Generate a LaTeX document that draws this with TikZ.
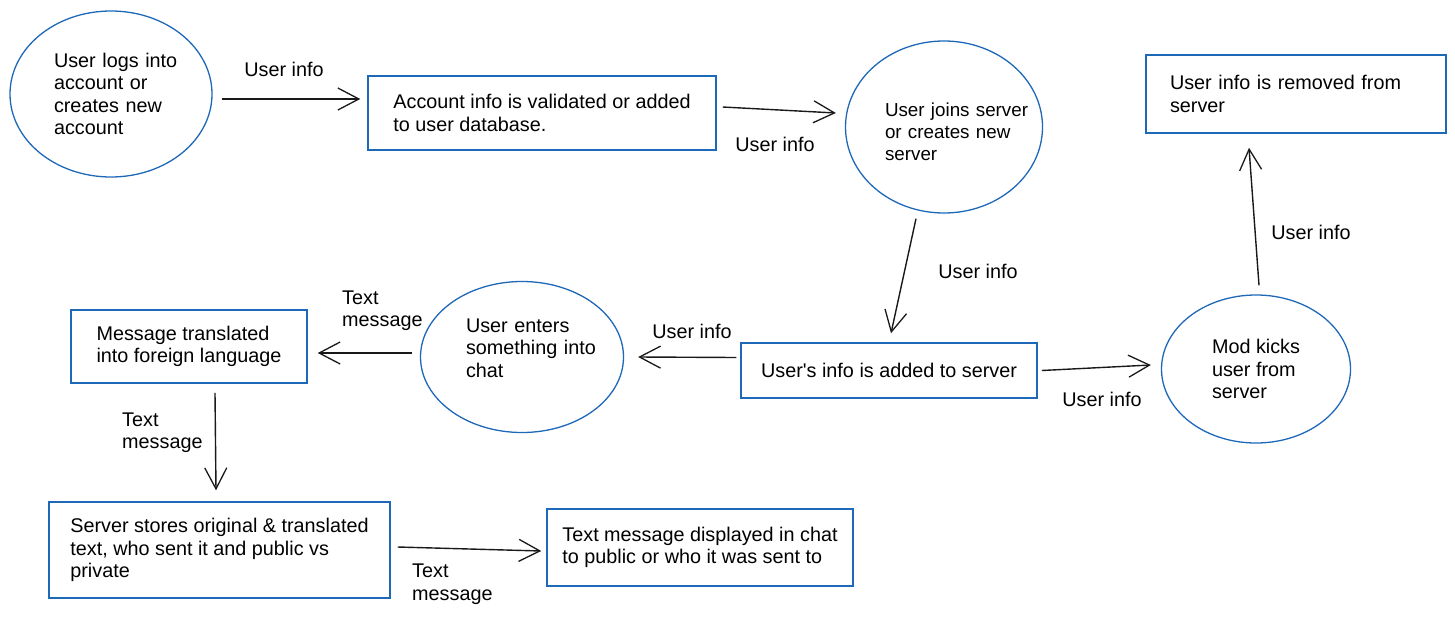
\documentclass[tikz,border=0pt]{standalone}
\usepackage{fontspec}
\setmainfont{Liberation Sans}
\usetikzlibrary{shapes.geometric, arrows.meta}
\definecolor{shape edge}{RGB}{30,104,184}
\colorlet{flow line}{black!90}
\tikzset{
  bubble/.style={ellipse, draw=shape edge, line width=1.3pt, align=left, inner ysep=0pt, inner xsep=-30pt,
    font=\fontsize{19.8pt}{22.5pt}\selectfont},
  procbox/.style={rectangle, draw=shape edge, line width=1.5pt, align=left, inner sep=0pt,
    font=\fontsize{19.8pt}{22.5pt}\selectfont},
  flow/.style={draw=flow line, line width=1.4pt, -{Straight Barb[length=21pt, width=22pt, line width=1.3pt]}},
  lbl/.style={inner sep=0pt, align=left, font=\fontsize{19.8pt}{22.5pt}\selectfont}
}

\begin{document}
\begin{tikzpicture}[x=1pt, y=-1pt]
    \useasboundingbox (0,0) rectangle (1455,616);
    % processes
    \node[bubble, minimum width=202pt, minimum height=166pt, text width=160pt,
      execute at begin node={\leftskip=23pt}] (login) at (111,94)
      {User logs into\\account or\\creates new\\account};
    \node[procbox, minimum width=348pt, minimum height=74pt] (account) at (542,113)
      {Account info is validated or added\\to user database.};
    \node[bubble, minimum width=197pt, minimum height=172pt, text width=190pt,
      execute at begin node={\leftskip=36pt},
      execute at end node={\par\vspace*{-9pt}},
      font=\fontsize{18.8pt}{22pt}\selectfont] (join) at (944,127)
      {User joins server\\or creates new\\server};
    \node[procbox, minimum width=300pt, minimum height=78pt, text width=252pt, inner xsep=24pt] (removed) at (1296,94)
      {User info is removed from\\server};
    \node[procbox, minimum width=296pt, minimum height=55pt] (added) at (889,370.5)
      {User\textquotesingle s info is added to server};
    \node[bubble, minimum width=189pt, minimum height=148pt] (kick) at (1256,369)
      {Mod kicks\\user from\\server};
    \node[bubble, minimum width=203pt, minimum height=151pt, text width=170pt,
      execute at begin node={\leftskip=29pt},
      execute at end node={\par\vspace*{18pt}}] (enter) at (522,357)
      {User enters\\something into\\chat};
    \node[procbox, minimum width=236pt, minimum height=73pt] (translated) at (189,346.5)
      {Message translated\\into foreign language};
    \node[procbox, minimum width=341pt, minimum height=96pt] (stores) at (219.5,550)
      {Server stores original \& translated\\text, who sent it and public vs\\private};
    \node[procbox, minimum width=306pt, minimum height=77pt] (shown) at (700,547.5)
      {Text message displayed in chat\\to public or who it was sent to};

    % data flows
    \draw[flow] ([xshift=9,yshift=-5]login.east) -- ([xshift=-7,yshift=14]account.west);
    \draw[flow] ([xshift=6,yshift=6]account.east) -- ([xshift=-9,yshift=14]join.west);
    \draw[flow] ([xshift=-28,yshift=-5]join.south) -- ([xshift=2,yshift=9]added.north);
    \draw[flow] ([xshift=-4,yshift=13]added.west) -- ([xshift=14]enter.east);
    \draw[flow] ([xshift=-8,yshift=4]enter.west) -- ([xshift=10,yshift=-6.5]translated.east);
    \draw[flow] ([xshift=26,yshift=-9]translated.south) -- ([xshift=-3.5,yshift=11]stores.north);
    \draw[flow] ([xshift=7,yshift=3]stores.east) -- ([xshift=-5,yshift=-3.5]shown.west);
    \draw[flow] ([xshift=4]added.east) -- ([xshift=-10,yshift=4]kick.west);
    \draw[flow] ([xshift=3,yshift=9]kick.north) -- ([xshift=-47,yshift=-14]removed.south);

    % flow labels
    \node[lbl] (info a) at (284,69) {User info};
    \node[lbl] (info b) at (775,144) {User info};
    \node[lbl] (info c) at (978,271) {User info};
    \node[lbl] (info d) at (692,331) {User info};
    \node[lbl] (info e) at (1102,399) {User info};
    \node[lbl] (info f) at (1311,232) {User info};
    \node[lbl, anchor=west] (msg a) at (342,310.5) {Text\\message};
    \node[lbl, anchor=west] (msg b) at (122,432.5) {Text\\message};
    \node[lbl, anchor=west] (msg c) at (412,584) {Text\\message};
  \end{tikzpicture}
\end{document}
